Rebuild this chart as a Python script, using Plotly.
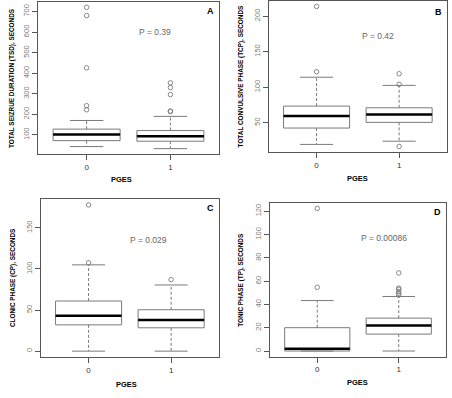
import plotly.graph_objects as go

W, H = 452, 398

# ---------------- data ----------------
groups = ["0", "1"]

# Panel A: total seizure duration (TSD)
a_q1 = [72, 69]
a_med = [102, 93]
a_q3 = [128, 121]
a_lo = [43, 33]
a_hi = [170, 190]
a_out0 = [720, 680, 426, 242, 222]
a_out1 = [353, 330, 296, 216, 213]
a_p = "P = 0.39"

# Panel B: total convulsive phase (TCP)
b_q1 = [42.5, 50.5]
b_med = [59.4, 61.7]
b_q3 = [73.4, 71]
b_lo = [19.5, 24]
b_hi = [114, 102.5]
b_out0 = [213.6, 121.7]
b_out1 = [118.9, 104, 16.7]
b_p = "P = 0.42"

# Panel C: clonic phase (CP)
c_q1 = [32, 28.4]
c_med = [43, 38]
c_q3 = [61, 50.4]
c_lo = [0, 0]
c_hi = [105, 80.5]
c_out0 = [178, 107.5]
c_out1 = [87]
c_p = "P = 0.029"

# Panel D: tonic phase (TP)
d_q1 = [0, 14.5]
d_med = [2, 21.8]
d_q3 = [20, 28.2]
d_lo = [0, 0]
d_hi = [43.3, 46.8]
d_out0 = [122.4, 54.7]
d_out1 = [67, 54, 53, 51, 49.5, 48]
d_p = "P = 0.00086"

ytitles = ["TOTAL SEIZRUE DURATION (TSD), SECONDS",
           "TOTAL CONVULSIVE PHASE (TCP), SECONDS",
           "CLONIC PHASE (CP), SECONDS",
           "TONIC PHASE (TP), SECONDS"]
yticks = [[100, 200, 300, 400, 500, 600, 700],
          [50, 100, 150, 200],
          [0, 50, 100, 150],
          [0, 20, 40, 60, 80, 100, 120]]
letters = ["A", "B", "C", "D"]
xlabel = "PGES"

panels = [
    (a_q1, a_med, a_q3, a_lo, a_hi, [a_out0, a_out1], a_p),
    (b_q1, b_med, b_q3, b_lo, b_hi, [b_out0, b_out1], b_p),
    (c_q1, c_med, c_q3, c_lo, c_hi, [c_out0, c_out1], c_p),
    (d_q1, d_med, d_q3, d_lo, d_hi, [d_out0, d_out1], d_p),
]

# ---------------- layout geometry (pixels) ----------------
# plot rectangles: x0, x1, y0(top), y1(bottom)
rects = [(38, 219, 1.7, 154.3),
         (268.7, 447, 0.8, 152),
         (40.7, 219, 199, 357),
         (270, 446, 202.7, 356.7)]
ytitle_x = [12, 241, 13, 241]
pges_pos = [(122, 179), (357, 178), (126, 384), (357.5, 382)]
p_pos = [(1.82, 0.80), (1.74, 0.77), (1.73, 0.74), (1.82, 0.77)]  # x data, y fraction

FONT = "Liberation Sans, Arial, sans-serif"
GREY = "#7a7a7a"
AXC = "#555555"

fig = go.Figure()
layout = dict(width=W, height=H, margin=dict(l=0, r=0, t=0, b=0),
              paper_bgcolor="white", plot_bgcolor="white", showlegend=False,
              font=dict(family=FONT))
annotations = []

for i, (q1, med, q3, lo, hi, outs, ptxt) in enumerate(panels):
    n = i + 1
    xa = "x" if n == 1 else f"x{n}"
    ya = "y" if n == 1 else f"y{n}"
    xkey = "xaxis" if n == 1 else f"xaxis{n}"
    ykey = "yaxis" if n == 1 else f"yaxis{n}"
    x0, x1, yt, yb = rects[i]

    allv = lo + hi + [v for o in outs for v in o]
    vmin, vmax = min(allv), max(allv)
    span = vmax - vmin
    yr = [vmin - 0.04 * span, vmax + 0.04 * span]

    for g in range(2):
        gx = g + 1
        hw = 0.4
        # box
        fig.add_trace(go.Scatter(x=[gx - hw, gx + hw, gx + hw, gx - hw, gx - hw],
                                 y=[q1[g], q1[g], q3[g], q3[g], q1[g]],
                                 mode="lines", line=dict(color=GREY, width=1),
                                 xaxis=xa, yaxis=ya, hoverinfo="skip"))
        # whiskers (dashed)
        fig.add_trace(go.Scatter(x=[gx, gx, None, gx, gx],
                                 y=[q3[g], hi[g], None, q1[g], lo[g]],
                                 mode="lines", line=dict(color=GREY, width=1, dash="3px,2px"),
                                 xaxis=xa, yaxis=ya, hoverinfo="skip"))
        # staples
        fig.add_trace(go.Scatter(x=[gx - hw / 2, gx + hw / 2, None, gx - hw / 2, gx + hw / 2],
                                 y=[hi[g], hi[g], None, lo[g], lo[g]],
                                 mode="lines", line=dict(color=GREY, width=1),
                                 xaxis=xa, yaxis=ya, hoverinfo="skip"))
        # median
        fig.add_trace(go.Scatter(x=[gx - hw, gx + hw], y=[med[g], med[g]],
                                 mode="lines", line=dict(color="black", width=2.5),
                                 xaxis=xa, yaxis=ya, hoverinfo="skip"))
        # outliers
        fig.add_trace(go.Scatter(x=[gx] * len(outs[g]), y=outs[g], mode="markers",
                                 marker=dict(symbol="circle-open", size=4.5,
                                             color=GREY, line=dict(width=0.9, color=GREY)),
                                 xaxis=xa, yaxis=ya, hoverinfo="skip"))

    layout[xkey] = dict(domain=[x0 / W, x1 / W], range=[0.42, 2.58],
                        tickvals=[1, 2], ticktext=groups, ticks="outside", ticklen=5,
                        tickcolor=AXC, tickfont=dict(size=8, color="#333333"),
                        showline=True, mirror=True, linecolor=AXC, linewidth=1,
                        showgrid=False, zeroline=False, anchor=ya, fixedrange=True)
    layout[ykey] = dict(domain=[1 - yb / H, 1 - yt / H], range=yr,
                        tickvals=yticks[i], ticks="outside", ticklen=5,
                        tickcolor=AXC, tickangle=-90, tickfont=dict(size=7.5, color=GREY),
                        showline=True, mirror=True, linecolor=AXC, linewidth=1,
                        showgrid=False, zeroline=False, anchor=xa, fixedrange=True)

    # y title
    annotations.append(dict(text=f"<b>{ytitles[i]}</b>", textangle=-90,
                            xref="paper", x=ytitle_x[i] / W, xanchor="center",
                            yref=f"{ya} domain", y=0.5, yanchor="middle",
                            showarrow=False, font=dict(size=6.4, color="black")))
    # x title
    px, py = pges_pos[i]
    annotations.append(dict(text=f"<b>{xlabel}</b>", xref="paper", x=px / W,
                            yref="paper", y=1 - py / H, xanchor="center", yanchor="middle",
                            showarrow=False, font=dict(size=7.5, color="black")))
    # p-value
    annotations.append(dict(text=ptxt, xref=xa, x=p_pos[i][0],
                            yref=f"{ya} domain", y=p_pos[i][1], xanchor="center",
                            yanchor="middle", showarrow=False,
                            font=dict(size=8.5, color="#666666")))
    # panel letter
    annotations.append(dict(text=f"<b>{letters[i]}</b>", xref=f"{xa} domain", x=0.985,
                            yref=f"{ya} domain", y=0.985 if i != 1 else 0.975,
                            xanchor="right", yanchor="top", showarrow=False,
                            font=dict(size=9, color="black")))

layout["annotations"] = annotations
fig.update_layout(**layout)
fig.write_html("out.html", config={"displayModeBar": False, "staticPlot": True},
               post_script="document.body.style.margin='0px';document.body.style.overflow='hidden';")
